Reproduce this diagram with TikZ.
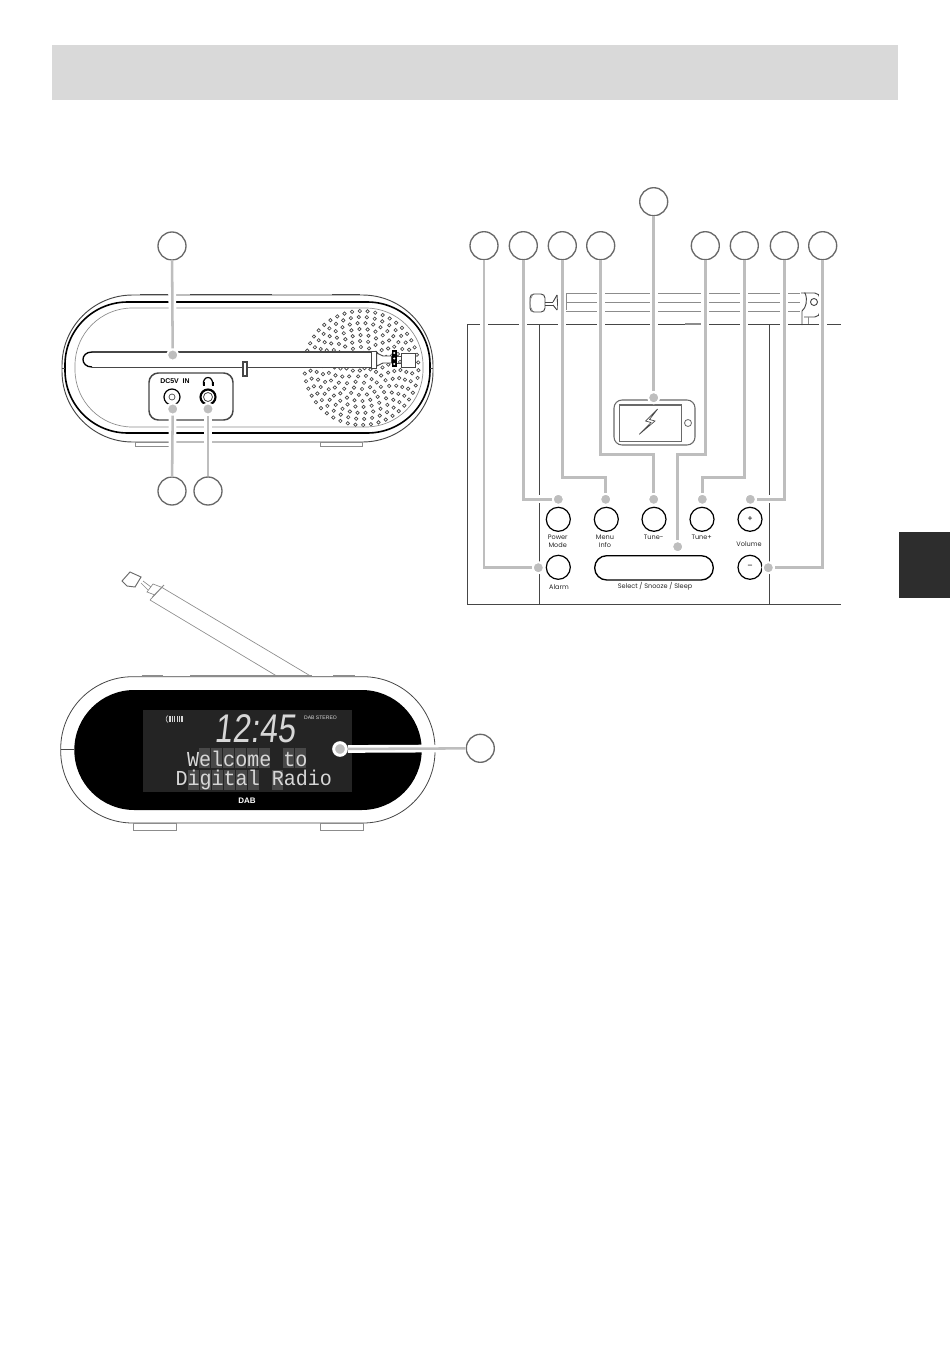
\documentclass[tikz,border=0pt]{standalone}
\usepackage{fontspec}
\usepackage{xcolor}
\setmainfont{Poppins}
\newfontfamily\lcdfont[FakeStretch=0.94]{Liberation Mono}
\newfontfamily\uhrfont[FakeStretch=0.8,FakeSlant=0.12]{Liberation Sans}
\newfontfamily\klarfont{Liberation Sans}
\definecolor{band}{RGB}{217,217,217}
\definecolor{dunkel}{RGB}{45,45,45}
\definecolor{leitung}{RGB}{190,190,190}
\definecolor{ring}{RGB}{105,105,105}
\definecolor{strich}{RGB}{70,70,70}
\definecolor{hellstrich}{RGB}{140,140,140}
\definecolor{lcd}{RGB}{36,36,36}
\definecolor{zelle}{RGB}{72,72,72}
\definecolor{segment}{RGB}{215,215,215}
\tikzset{
  kreis/.style={circle,draw=ring,fill=white,line width=1pt,minimum size=21pt,inner sep=0pt},
  punkt/.style={circle,fill=leitung,draw=white,line width=1.5pt,minimum size=8.5pt,inner sep=0pt},
  leit/.style={draw=leitung,line width=1.9pt,preaction={draw=white,line width=5.8pt}},
  taste/.style={circle,draw=black,line width=0.9pt,minimum size=18pt,inner sep=0pt,font=\fontsize{6}{6}\selectfont},
  schrift/.style={inner sep=0pt,text=black!85,align=center,font=\fontsize{4.9}{6.2}\selectfont},
  duenn/.style={draw=hellstrich,line width=0.5pt},
  rand/.style={draw=strich,line width=0.7pt},
  loch/.style={draw=strich,line width=0.5pt},
}
\begin{document}
\begin{tikzpicture}[x=0.75pt,y=-0.75pt]
    \useasboundingbox (0,0) rectangle (950,1366);
    \fill[white] (0,0) rectangle (950,1366);

    % Kopfband und Seitenmarke
    \fill[band] (52,45) rectangle (898,100);
    \fill[dunkel] (899,532) rectangle (950,598);

    % Rueckseite
    \draw[rand, rounded corners=53pt] (62,295) rectangle (433,442);
    \draw[black, line width=1.2pt, rounded corners=47pt] (65,302) rectangle (430,433);
    \draw[duenn, rounded corners=43pt] (75,308) rectangle (423,427);
    \draw[strich, line width=1.3pt] (140,294.5) -- (168,294.5);
    \draw[strich, line width=1.3pt] (190,294.5) -- (272,294.5);
    \draw[strich, line width=1.3pt] (332,294.5) -- (360,294.5);
    \draw[rand] (62,368) -- (65,368);
    \draw[rand] (430,368) -- (433,368);
    \draw[duenn, fill=white] (135,442) rectangle (175,446);
    \draw[duenn, fill=white] (320,442) rectangle (362,446);

    % Lautsprecher
    \coordinate (spk) at (361.5,368);
    \foreach \r/\n in {57/46,51/40,45/36,39/30,33/26,27/21,21/16,15/11,9/7,3/3}
      \foreach \i in {1,...,\n}
        \draw[loch] ([shift={(360/\n*\i+\r:\r)}]spk) circle (1.7);

    % Antenne
    \fill[white] (86,352) rectangle (372,367);
    \draw[strich, line width=0.8pt] (92,352) -- (372,352);
    \draw[strich, line width=0.5pt] (92,367) -- (372,367);
    \draw[black, line width=1pt] (92,352) .. controls (80,352) and (80,367) .. (92,367);
    \draw[rand, fill=white] (371.7,351) rectangle (376.7,368);
    \draw[rand, fill=white] (376.7,353) -- (383,356) -- (391.7,356) -- (391.7,363) -- (383,363) -- (376.7,366) -- cycle;
    \draw[rand, fill=white] (401.7,353) rectangle (415,367);
    \draw[rand] (396.7,356) -- (401.7,356);
    \draw[rand] (396.7,363) -- (401.7,363);
    \fill[black] (391.7,350) rectangle (396.7,367);
    \foreach \y in {353,358.5,364}
      \fill[white] (394.2,\y) circle (1.1);
    \draw[strich, line width=0.8pt, fill=white] (243,362) rectangle (247,376);

    % Buchsenfeld
    \draw[strich, line width=1.1pt, rounded corners=7pt, fill=white] (149,373) rectangle (233,420);
    \node[inner sep=0pt, font=\klarfont\bfseries\fontsize{5.2}{6}\selectfont] (dcText) at (175,381) {DC5V\ \ IN};
    \draw[black, line width=0.9pt] (172,397) circle (8);
    \draw[strich, line width=0.5pt] (172,397) circle (3);
    \draw[black, line width=1.6pt] (208,397) circle (7.5);
    \draw[strich, line width=0.6pt] (208,397) circle (4.5);
    \draw[black, line width=0.9pt] (203.5,385) .. controls (202,375) and (214,375) .. (212.5,385);
    \fill[black] (202.5,381.5) rectangle (204.5,386);
    \fill[black] (211.5,381.5) rectangle (213.5,386);

    % Bedienfeld von oben
    \draw[duenn] (566,293.3) -- (800,293.3);
    \draw[duenn] (566,302.3) -- (800,302.3);
    \draw[duenn] (566,311.3) -- (800,311.3);
    \draw[duenn] (566,294) -- (566,310);
    \draw[rand, rounded corners=3pt] (530,294) rectangle (545,312);
    \draw[duenn] (533,294) .. controls (529,300) and (529,306) .. (533,312);
    \draw[rand] (545,302) -- (553,302);
    \draw[rand] (545,305) -- (553,305);
    \draw[rand] (553,302) -- (557,295);
    \draw[rand] (553,305) -- (557,310);
    \draw[rand] (557,295) -- (558,310);
    \draw[rand, rounded corners=4pt] (804,293) -- (820,293) -- (820,317) -- (804,317);
    \draw[rand] (801,293) -- (805,293) .. controls (808,300) and (806,308) .. (802,311) -- (802,325);
    \draw[duenn] (808,317) -- (808,325);
    \draw[rand] (814,302) circle (3.5);
    \draw[strich, line width=0.7pt] (467,324.7) -- (841,324.7);
    \draw[strich, line width=0.7pt] (467,604.3) -- (841,604.3);
    \draw[strich, line width=0.6pt] (467,324.7) -- (467,604.3);
    \draw[strich, line width=0.6pt] (539,324.7) -- (539,604.3);
    \draw[strich, line width=0.5pt] (769.3,324.7) -- (769.3,604.3);
    \draw[hellstrich, line width=1.2pt] (685,323.7) -- (702,323.7);

    % Telefon
    \draw[ring, line width=0.8pt, rounded corners=6pt] (614,400) rectangle (695,445);
    \draw[ring, line width=0.8pt] (619.3,405) rectangle (681.7,441.7);
    \draw[ring, line width=0.6pt] (688,423) circle (3.5);
    \draw[strich, line width=0.5pt] (657.7,409) -- (645.5,421) -- (651,422.5) -- (639.3,434.3) -- (655,421) -- (649.5,419.5) -- cycle;

    % Tasten
    \node[taste] (power) at (558.3,519.3) {};
    \node[taste] (menu) at (606.3,519.3) {};
    \node[taste] (tuneMinus) at (654,519.3) {};
    \node[taste] (tunePlus) at (702,519.3) {};
    \node[taste] (volPlus) at (750,519.3) {+};
    \node[taste] (alarm) at (558.3,567.3) {};
    \node[taste] (volMinus) at (750,567.3) {--};
    \draw[black, line width=1pt, rounded corners=9pt] (594.7,555.7) rectangle (713.3,580);
    \node[schrift] (powerText) at (557.7,541.5) {Power\\Mode};
    \node[schrift] (menuText) at (605,541.5) {Menu\\Info};
    \node[schrift] (tuneMinusText) at (653.7,537.7) {Tune-};
    \node[schrift] (tunePlusText) at (701.7,537.7) {Tune+};
    \node[schrift] (volText) at (749,544.3) {Volume};
    \node[schrift] (alarmText) at (559,586.7) {Alarm};
    \node[schrift] (selectText) at (655,586.7) {Select / Snooze / Sleep};

    % Vorderseite
    \draw[hellstrich, line width=0.5pt] (276.7,676) -- (150,600);
    \draw[hellstrich, line width=0.5pt] (311.7,676.7) -- (161.7,587.3);
    \draw[hellstrich, line width=0.5pt] (150,600) -- (161.7,587.3);
    \draw[hellstrich, line width=0.7pt] (152.5,597) -- (164,585);
    \draw[hellstrich, line width=0.5pt] (155,595) -- (147,592) -- (153,584) -- (161.7,587.3);
    \draw[hellstrich, line width=0.5pt] (148,590) -- (141,583);
    \draw[hellstrich, line width=0.5pt] (151,587) -- (143,581);
    \draw[ring, line width=0.7pt] (122,581) -- (130,572) -- (141,577) -- (135,587) -- (127,586) -- cycle;
    \draw[rand, line width=0.6pt, fill=white, rounded corners=54pt] (60.7,676.7) rectangle (435,823);
    \draw[hellstrich, line width=1.2pt] (141.7,676.2) -- (163.3,676.2);
    \draw[hellstrich, line width=1.2pt] (190,676.2) -- (311.7,676.2);
    \draw[hellstrich, line width=1.2pt] (333,676.2) -- (355,676.2);
    \fill[black, rounded corners=45pt] (74.3,690) rectangle (421.7,810);
    \draw[rand] (60.7,749) -- (74.3,749);
    \draw[duenn, fill=white] (133,823) rectangle (176,830);
    \draw[duenn, fill=white] (320.7,823) rectangle (363,830);

    % Anzeige
    \fill[lcd] (142.7,710) rectangle (351.7,791.7);
    \foreach \i in {1,...,6,8,9}
      \fill[zelle] (187.3+12*\i,748) rectangle (198.3+12*\i,768);
    \foreach \i in {1,...,6,8,...,12}
      \fill[zelle] (176+12*\i,769.5) rectangle (187+12*\i,789.5);
    \node[inner sep=0pt, text=segment, font=\uhrfont\fontsize{30}{30}\selectfont] (uhr) at (255,729) {12:45};
    \node[inner sep=0pt, text=segment, font=\lcdfont\fontsize{16}{16}\selectfont] (zeileA) at (247.3,758.5) {Welcome to};
    \node[inner sep=0pt, text=segment, font=\lcdfont\fontsize{16}{16}\selectfont] (zeileB) at (253.8,780) {Digital Radio};
    \node[inner sep=0pt, text=segment, font=\klarfont\fontsize{3.8}{4}\selectfont] (dabText) at (320.5,718) {DAB STEREO};
    \foreach \x in {170,172.4,...,183}
      \draw[segment, line width=0.9pt] (\x,716) -- (\x,722);
    \draw[segment, line width=0.4pt] (168,715.5) .. controls (165.5,717) and (165.5,721) .. (168,722.5);
    \node[inner sep=0pt, text=white, font=\klarfont\bfseries\fontsize{6}{6}\selectfont] (dabLogo) at (247,801) {DAB};

    % Nummernkreise
    \node[kreis] (k1) at (172,246) {};
    \node[kreis] (k2) at (172,491) {};
    \node[kreis] (k3) at (208,491) {};
    \node[kreis] (k4) at (484,245.7) {};
    \node[kreis] (k5) at (523.3,245.7) {};
    \node[kreis] (k6) at (562.3,245.7) {};
    \node[kreis] (k7) at (600.7,245.7) {};
    \node[kreis] (k8) at (653.7,201.7) {};
    \node[kreis] (k9) at (705.3,245.7) {};
    \node[kreis] (k10) at (744.3,245.7) {};
    \node[kreis] (k11) at (784.3,245.7) {};
    \node[kreis] (k12) at (822.7,245.7) {};
    \node[kreis] (k13) at (480.3,748.3) {};

    % Zielpunkte
    \node[punkt] (p1) at (172.7,355) {};
    \node[punkt] (p2) at (172.7,409) {};
    \node[punkt] (p3) at (208,409) {};
    \node[punkt] (p4) at (538.3,567.7) {};
    \node[punkt] (p5) at (558.3,499.3) {};
    \node[punkt] (p6) at (605.7,499.3) {};
    \node[punkt] (p7) at (653.7,499.3) {};
    \node[punkt] (p8) at (653.7,397.7) {};
    \node[punkt] (p9) at (677.7,546.7) {};
    \node[punkt] (p10) at (702.3,499.3) {};
    \node[punkt] (p11) at (750.3,499.3) {};
    \node[punkt] (p12) at (768.3,567.7) {};
    \node[punkt, line width=2.2pt, minimum size=9.5pt] (p13) at (340,749) {};

    % Knickpunkte
    \coordinate (b6) at (605.7,477.3);
    \coordinate (b7) at (653.7,454.3);
    \coordinate (b9) at (677.7,454.3);
    \coordinate (b10) at (702.3,477.3);

    % Leitungen
    \draw[leit] (k1) -- (p1);
    \draw[leit] (k2) -- (p2);
    \draw[leit] (k3) -- (p3);
    \draw[leit] (k4) |- (p4);
    \draw[leit] (k5) |- (p5);
    \draw[leit] (k6) |- (b6) -- (p6);
    \draw[leit] (k7) |- (b7) -- (p7);
    \draw[leit] (k8) -- (p8);
    \draw[leit] (k9) |- (b9) -- (p9);
    \draw[leit] (k10) |- (b10) -- (p10);
    \draw[leit] (k11) |- (p11);
    \draw[leit] (k12) |- (p12);
    \draw[leit] (k13) -- (p13);
\end{tikzpicture}
\end{document}
